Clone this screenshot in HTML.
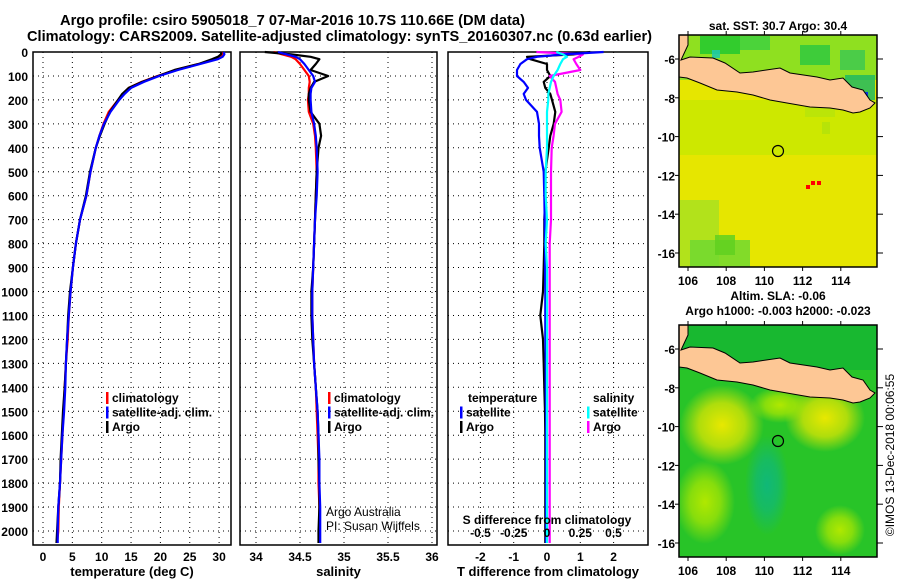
<!DOCTYPE html>
<html><head><meta charset="utf-8"><style>
html,body{margin:0;padding:0;background:#fff;}
svg{display:block;font-family:"Liberation Sans",sans-serif;font-weight:bold;}
</style></head><body>
<svg id="chart" width="900" height="580" viewBox="0 0 900 580" xmlns="http://www.w3.org/2000/svg">
<text x="60" y="25" font-size="14.6" textLength="465" lengthAdjust="spacingAndGlyphs">Argo profile: csiro 5905018_7 07-Mar-2016 10.7S 110.66E (DM data)</text>
<text x="27" y="41" font-size="14.6" textLength="625" lengthAdjust="spacingAndGlyphs">Climatology: CARS2009. Satellite-adjusted climatology: synTS_20160307.nc (0.63d earlier)</text>
<g id="p1"></g>
<g id="p2"></g>
<g id="p3"></g>
<g id="maps"></g>
<text transform="translate(894,455) rotate(-90)" font-size="12" font-weight="normal" text-anchor="middle">©IMOS 13-Dec-2018 00:06:55</text>
</svg>
<script>
const depths=[0,10,20,30,50,75,100,125,150,175,200,250,300,350,400,500,600,700,800,900,1000,1100,1200,1300,1400,1500,1600,1700,1800,1900,2000,2050];
const tempClim=[30.6,30.5,30.2,29.4,26.5,22.5,19.5,16.8,14.6,13.6,12.8,11.2,10.3,9.6,9.0,8.1,7.4,6.3,5.6,5.1,4.7,4.4,4.2,3.9,3.7,3.5,3.3,3.1,2.9,2.7,2.6,2.4];
const tempSat=[30.8,30.9,30.6,29.8,26.8,23.0,19.8,17.2,15.0,13.9,13.0,11.5,10.4,9.6,9.0,8.1,7.4,6.3,5.6,5.1,4.7,4.4,4.1,3.9,3.8,3.6,3.3,3.1,2.9,2.6,2.5,2.5];
const tempArgo=[30.4,30.3,29.8,28.8,26.5,22.4,19.6,16.9,14.6,13.5,12.8,11.4,10.5,9.7,9.0,8.0,7.3,6.3,5.6,5.1,4.6,4.3,4.1,3.9,3.7,3.4,3.2,3.0,2.9,2.6,2.4,2.3];
const salClim=[34.2,34.3,34.4,34.45,34.5,34.55,34.6,34.61,34.6,34.6,34.59,34.6,34.65,34.67,34.68,34.69,34.68,34.67,34.66,34.65,34.64,34.64,34.65,34.66,34.68,34.69,34.7,34.71,34.71,34.72,34.72,34.72];
const salSat=[34.25,34.35,34.45,34.5,34.55,34.6,34.65,34.67,34.63,34.62,34.62,34.63,34.66,34.68,34.69,34.7,34.69,34.67,34.66,34.65,34.64,34.64,34.65,34.66,34.68,34.7,34.71,34.72,34.72,34.73,34.73,34.73];
const salArgo=[34.1,34.4,34.62,34.72,34.68,34.62,34.82,34.66,34.62,34.6,34.6,34.62,34.72,34.74,34.71,34.69,34.68,34.67,34.66,34.65,34.63,34.63,34.64,34.66,34.68,34.7,34.71,34.71,34.72,34.72,34.71,34.71];
const tDiffSat=[1.7,0.5,-0.3,-0.6,-0.8,-0.9,-0.9,-0.7,-0.57,-0.7,-0.63,-0.3,-0.24,-0.24,-0.22,-0.1,-0.08,-0.07,-0.06,-0.06,-0.05,-0.05,-0.05,-0.04,-0.04,-0.03,-0.03,-0.03,-0.03,-0.03,-0.03,-0.03];
const tDiffArgo=[1.3,0.8,-0.6,-0.5,0.0,0.0,0.1,-0.1,-0.05,0.1,0.15,0.25,0.2,0.1,0.05,-0.05,-0.05,-0.08,-0.08,-0.1,-0.12,-0.2,-0.12,-0.1,-0.08,-0.06,-0.05,-0.05,-0.05,-0.05,-0.05,-0.05];
const sDiffSat=[0.07,0.12,0.15,0.12,0.1,0.08,0.05,0.03,0.02,0.01,0.01,0.0,0.0,0.0,0.0,-0.01,-0.01,0.0,-0.01,0.0,0.0,0.0,0.0,0.0,0.0,0.0,0.0,0.0,0.0,0.0,0.0,0.0];
const sDiffArgo=[-0.08,0.27,0.24,0.2,0.22,0.25,0.02,0.06,0.07,0.08,0.1,0.11,0.06,0.05,0.035,0.03,0.03,0.03,0.02,0.02,0.02,0.02,0.02,0.02,0.02,0.02,0.02,0.02,0.02,0.02,0.02,0.02];
const depthTicks=[0,100,200,300,400,500,600,700,800,900,1000,1100,1200,1300,1400,1500,1600,1700,1800,1900,2000];
const tempTicks=[0,5,10,15,20,25,30];
const salTicks=[34,34.5,35,35.5,36];
const tdTicks=[-2,-1,0,1,2];
const sdTicks=[-0.5,-0.25,0,0.25,0.5];
const sdTickLabels=["-0.5","-0.25","0","0.25","0.5"];

const NS="http://www.w3.org/2000/svg";
const TOP=52,BOT=545;
const yD=d=>52+d*0.2395;
function mk(parent,tag,attrs){const e=document.createElementNS(NS,tag);for(const k in attrs)e.setAttribute(k,attrs[k]);parent.appendChild(e);return e;}
function txt(parent,x,y,s,size,anchor,weight){const t=mk(parent,'text',{x:x,y:y,'font-size':size,'text-anchor':anchor||'middle'});if(weight)t.setAttribute('font-weight',weight);t.textContent=s;return t;}

function panel(g,x0,x1,xs,xticks,xlabels,title,yLabels){
  mk(g,'rect',{x:x0,y:TOP,width:x1-x0,height:BOT-TOP,fill:'none',stroke:'#000','stroke-width':1.5});
  depthTicks.forEach((d,i)=>{
    const l=mk(g,'line',{x1:x0,x2:x1,y1:yD(d),y2:yD(d),stroke:'#000','stroke-dasharray':'1,4','stroke-width':1});
    
    
    if(yLabels){const t=txt(g,28,yD(d)+5,String(d),12,'end');
      
      }
  });
  xticks.forEach((v,i)=>{
    const l=mk(g,'line',{x1:xs(v),x2:xs(v),y1:TOP,y2:BOT,stroke:'#000','stroke-dasharray':'1,4','stroke-width':1});
    
    
    const t=txt(g,xs(v),561,xlabels[i],12,'middle');
    
    
  });
  const t=txt(g,(x0+x1)/2,576,title,13,'middle');
  
  
}
function series(g,vals,xs,color,name){
  const pts=vals.map((v,i)=>xs(v).toFixed(1)+','+yD(depths[i]).toFixed(1)).join(' ');
  const p=mk(g,'polyline',{points:pts,fill:'none',stroke:color,'stroke-width':2.2,'stroke-linejoin':'round'});
  
  
}
function legend(g,x,y,items){
  items.forEach((it,i)=>{
    mk(g,'rect',{x:x,y:y+i*14.5-10,width:2.5,height:12,fill:it[1]});
    const t=txt(g,x+6,y+i*14.5,it[0],12,'start');
    
    
  });
}
const p1=document.getElementById('p1');
const xT=v=>43+v*5.87;
panel(p1,33,231,xT,tempTicks,tempTicks.map(String),'temperature (deg C)',true);
series(p1,tempClim,xT,'#f00','temp-climatology-line');
series(p1,tempArgo,xT,'#000','temp-argo-line');
series(p1,tempSat,xT,'#00f','temp-satellite-line');
legend(p1,106,402,[['climatology','#f00'],['satellite-adj. clim.','#00f'],['Argo','#000']]);
const p2=document.getElementById('p2');
const xS=v=>256+(v-34)*88;
panel(p2,240,437,xS,salTicks,salTicks.map(String),'salinity',false);
series(p2,salClim,xS,'#f00','sal-climatology-line');
series(p2,salArgo,xS,'#000','sal-argo-line');
series(p2,salSat,xS,'#00f','sal-satellite-line');
legend(p2,328,402,[['climatology','#f00'],['satellite-adj. clim.','#00f'],['Argo','#000']]);
let t=txt(p2,326,516,'Argo Australia',12,'start','normal');

t=txt(p2,326,530,'PI: Susan Wijffels',12,'start','normal');

const p3=document.getElementById('p3');
const xTD=v=>547+v*33.3;
const xSD=v=>547+v*133;
panel(p3,448,648,xTD,tdTicks,tdTicks.map(String),'T difference from climatology',false);
series(p3,tDiffArgo,xTD,'#000','tdiff-argo-line');
series(p3,sDiffArgo,xSD,'#f0f','sdiff-argo-line');
series(p3,tDiffSat,xTD,'#00f','tdiff-satellite-line');
series(p3,sDiffSat,xSD,'#0ff','sdiff-satellite-line');
sdTicks.forEach((v,i)=>{const tt=txt(p3,xSD(v),537,sdTickLabels[i],12,'middle');
  });
t=txt(p3,547,524,'S difference from climatology',12,'middle');

t=txt(p3,468,402,'temperature',12,'start');
t=txt(p3,593,402,'salinity',12,'start');
legend(p3,460,416.5,[['satellite','#00f'],['Argo','#000']]);
legend(p3,587,416.5,[['satellite','#0ff'],['Argo','#f0f']]);

const M=document.getElementById('maps');
const lonX=v=>688+(v-106)*19.1;
const lonTicks=[106,108,110,112,114];
const latTicks=[-6,-8,-10,-12,-14,-16];
const land="679,35 688,35 688,45 681,60 690,57 713,58 725,63 740,73 753,72 780,68 790,73 817,77 830,80 843,78 852,87 863,90 870,100 875,103 870,108 860,112 853,113 843,110 830,108 810,107 787,103 770,100 753,95 737,92 717,90 700,83 687,78 679,77";
function mapFrame(oy,name,drawField){
  const g=mk(M,'g',{transform:'translate(0,'+oy+')'});
  
  
  mk(g,'clipPath',{id:'c'+oy}).appendChild(document.createElementNS(NS,'rect'));
  const cr=g.lastChild.firstChild;cr.setAttribute('x',679);cr.setAttribute('y',35);cr.setAttribute('width',198);cr.setAttribute('height',232);
  const f=mk(g,'g',{'clip-path':'url(#c'+oy+')'});
  drawField(f);
  const l=mk(f,'polygon',{points:land,fill:'#fdc795',stroke:'#000','stroke-width':1});
  
  
  const c=mk(g,'circle',{cx:778,cy:151,r:5.5,fill:'none',stroke:'#000','stroke-width':1.2});
  
  
  mk(g,'rect',{x:679,y:35,width:198,height:232,fill:'none',stroke:'#000','stroke-width':1.5});
  lonTicks.forEach(v=>{mk(g,'line',{x1:lonX(v),x2:lonX(v),y1:267,y2:271,stroke:'#000'});mk(g,'line',{x1:lonX(v),x2:lonX(v),y1:35,y2:31,stroke:'#000'});
    const tt=txt(g,lonX(v),285,String(v),12,'middle');});
  latTicks.forEach(v=>{const y=59+(-6-v)*19.4;mk(g,'line',{x1:675,x2:679,y1:y,y2:y,stroke:'#000'});mk(g,'line',{x1:877,x2:883,y1:y,y2:y,stroke:'#000'});
    const tt=txt(g,675,y+5,String(v),12,'end');});
}
mapFrame(0,'sst-map',f=>{
  mk(f,'rect',{x:679,y:35,width:198,height:232,fill:'#e6e600'});
  mk(f,'rect',{x:679,y:35,width:198,height:45,fill:'#8fe020'});
  const patches=[[700,36,40,18,'#22c830'],[740,36,30,14,'#40d040'],[712,50,8,8,'#20c8b0'],[800,45,30,20,'#30c840'],[840,50,25,20,'#40c850'],[845,75,30,30,'#20b860'],[860,92,8,10,'#0020ff'],[805,105,30,12,'#60d040'],[822,122,8,12,'#40c040'],[679,100,198,55,'#c8e800'],[679,200,40,67,'#a8e020'],[690,240,60,27,'#70d830'],[715,235,20,20,'#60d020']];
  patches.forEach(p=>mk(f,'rect',{x:p[0],y:p[1],width:p[2],height:p[3],fill:p[4],opacity:0.85}));
  [[806,185],[811,181],[817,181]].forEach(p=>mk(f,'rect',{x:p[0],y:p[1],width:4,height:4,fill:'#f00'}));
});
const defs=mk(M,'defs',{});
function rg(id,color,mid){const r=mk(defs,'radialGradient',{id:id});mk(r,'stop',{offset:'0','stop-color':color,'stop-opacity':1});mk(r,'stop',{offset:mid||'0.5','stop-color':color,'stop-opacity':0.7});mk(r,'stop',{offset:'1','stop-color':color,'stop-opacity':0});}
rg('gy','#e8e800','0.55');rg('gy2','#b0e800','0.5');rg('gt','#10b878','0.5');
mapFrame(290,'sla-map',f=>{
  mk(f,'rect',{x:679,y:35,width:198,height:232,fill:'#28c428'});
  mk(f,'rect',{x:679,y:35,width:198,height:45,fill:'#18b830'});
  mk(f,'ellipse',{cx:722,cy:135,rx:42,ry:40,fill:'url(#gy)'});
  mk(f,'ellipse',{cx:825,cy:128,rx:40,ry:34,fill:'url(#gy)'});
  mk(f,'ellipse',{cx:705,cy:212,rx:30,ry:42,fill:'url(#gy2)'});
  mk(f,'ellipse',{cx:767,cy:195,rx:22,ry:50,fill:'url(#gt)'});
  mk(f,'ellipse',{cx:780,cy:115,rx:30,ry:18,fill:'url(#gy2)'});
  mk(f,'ellipse',{cx:840,cy:240,rx:25,ry:25,fill:'url(#gy2)'});
});
let m=txt(M,778,30,'sat. SST: 30.7 Argo: 30.4',12,'middle');
m=txt(M,778,300,'Altim. SLA: -0.06',12,'middle');
m=txt(M,778,315,'Argo h1000: -0.003 h2000: -0.023',12,'middle');
</script>
</body></html>
